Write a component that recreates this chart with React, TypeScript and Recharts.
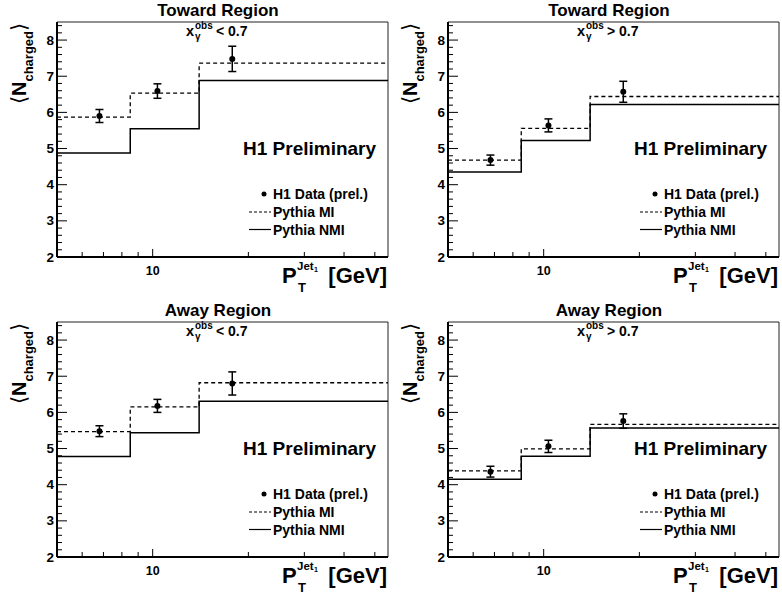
import {
  ComposedChart,
  Line,
  Scatter,
  ErrorBar,
  XAxis,
  YAxis,
  ReferenceArea,
  Legend,
} from 'recharts';

const FONT = '"Liberation Sans", Arial, Helvetica, sans-serif';

// P_T^Jet1 bins [GeV] and where the data points sit
const binEdges = [5, 8.5, 14, 55];
const pointX = [6.8, 10.35, 17.8];

const xMajorTicks = [10];
const xMinorTicks = [6, 7, 8, 9, 20, 30, 40, 50];
const yMajorTicks = [2, 3, 4, 5, 6, 7, 8];
const yMinorTicks = [
  2.2, 2.4, 2.6, 2.8, 3.2, 3.4, 3.6, 3.8, 4.2, 4.4, 4.6, 4.8, 5.2, 5.4, 5.6, 5.8,
  6.2, 6.4, 6.6, 6.8, 7.2, 7.4, 7.6, 7.8, 8.2, 8.4,
];

const legendLabels = ['H1 Data (prel.)', 'Pythia MI', 'Pythia NMI'];

// Toward region, x_gamma < 0.7
const towardLowData = [5.9, 6.59, 7.48];
const towardLowErr = [0.18, 0.2, 0.35];
const towardLowMI = [5.87, 6.53, 7.36];
const towardLowNMI = [4.88, 5.55, 6.88];

// Toward region, x_gamma > 0.7
const towardHighData = [4.68, 5.64, 6.57];
const towardHighErr = [0.14, 0.18, 0.29];
const towardHighMI = [4.68, 5.56, 6.44];
const towardHighNMI = [4.35, 5.22, 6.22];

// Away region, x_gamma < 0.7
const awayLowData = [5.48, 6.18, 6.8];
const awayLowErr = [0.15, 0.18, 0.32];
const awayLowMI = [5.47, 6.15, 6.82];
const awayLowNMI = [4.78, 5.44, 6.31];

// Away region, x_gamma > 0.7
const awayHighData = [4.36, 5.06, 5.76];
const awayHighErr = [0.15, 0.17, 0.2];
const awayHighMI = [4.38, 4.99, 5.67];
const awayHighNMI = [4.15, 4.79, 5.57];

// histogram as step points: one row per bin edge, last value repeated
function stepRows(vals: number[]) {
  return binEdges.map((x, i) => ({ x, y: vals[Math.min(i, vals.length - 1)] }));
}

function XTick(props: any) {
  const { x, y, payload } = props;
  const major = xMajorTicks.includes(payload.value);
  return (
    <g>
      <line x1={x} y1={y} x2={x} y2={y - (major ? 8 : 5)} stroke="#000" strokeWidth={1} />
      {major && (
        <text x={x} y={y + 18} textAnchor="middle" fontSize={12.5} fontWeight="bold" fontFamily={FONT} fill="#000">
          {payload.value}
        </text>
      )}
    </g>
  );
}

function YTick(props: any) {
  const { x, y, payload } = props;
  const major = yMajorTicks.includes(payload.value);
  return (
    <g>
      <line x1={x} y1={y} x2={x + (major ? 10 : 5)} y2={y} stroke="#000" strokeWidth={1} />
      {major && (
        <text x={x - 3} y={y + 4.5} textAnchor="end" fontSize={13.5} fontWeight="bold" fontFamily={FONT} fill="#000">
          {payload.value}
        </text>
      )}
    </g>
  );
}

function DataDot(props: any) {
  return <circle cx={props.cx} cy={props.cy} r={3} fill="#000" />;
}

function LegendBox() {
  const rows = [10, 28, 45.5];
  return (
    <svg width={150} height={56} style={{ display: 'block', overflow: 'visible' }}>
      <circle cx={19} cy={rows[0]} r={2.5} fill="#000" />
      <line x1={4} x2={26} y1={rows[1]} y2={rows[1]} stroke="#000" strokeWidth={1.2} strokeDasharray="3 2" />
      <line x1={4} x2={26} y1={rows[2]} y2={rows[2]} stroke="#000" strokeWidth={1.2} />
      {legendLabels.map((l, i) => (
        <text key={l} x={28} y={rows[i] + 5} fontSize={14} fontWeight="bold" fontFamily={FONT} fill="#000">
          {l}
        </text>
      ))}
    </svg>
  );
}

interface PanelProps {
  title: string;
  cut: string;
  data: number[];
  err: number[];
  mi: number[];
  nmi: number[];
  left: number;
  top: number;
}

function Panel({ title, cut, data, err, mi, nmi, left, top }: PanelProps) {
  const points = pointX.map((x, i) => ({ x, y: data[i], err: err[i] }));
  const xTicks = [...xMinorTicks, ...xMajorTicks].sort((a, b) => a - b);
  const yTicks = [...yMajorTicks, ...yMinorTicks].sort((a, b) => a - b);
  return (
    <div style={{ position: 'absolute', left, top, width: 391, height: 300 }}>
      <ComposedChart width={391} height={300} margin={{ top: 22, right: 3, bottom: 0, left: 0 }}>
        <XAxis
          dataKey="x"
          type="number"
          scale="log"
          domain={[5, 55]}
          allowDataOverflow
          ticks={xTicks}
          interval={0}
          tick={XTick}
          tickLine={false}
          tickSize={0}
          tickMargin={0}
          height={43}
          axisLine={{ stroke: '#000', strokeWidth: 2 }}
        />
        <YAxis
          dataKey="y"
          type="number"
          domain={[2, 8.5]}
          allowDataOverflow
          ticks={yTicks}
          interval={0}
          tick={YTick}
          tickLine={false}
          tickSize={0}
          tickMargin={0}
          width={57}
          axisLine={{ stroke: '#000', strokeWidth: 2 }}
        />
        <ReferenceArea x1={5} x2={55} y1={2} y2={8.5} fill="none" stroke="#222" strokeWidth={1} ifOverflow="visible" />
        <Line
          data={stepRows(nmi)}
          dataKey="y"
          type="stepAfter"
          stroke="#000"
          strokeWidth={1.5}
          dot={false}
          isAnimationActive={false}
        />
        <Line
          data={stepRows(mi)}
          dataKey="y"
          type="stepAfter"
          stroke="#000"
          strokeWidth={1.3}
          strokeDasharray="4 3"
          dot={false}
          isAnimationActive={false}
        />
        <Scatter data={points} dataKey="y" fill="#000" shape={DataDot} isAnimationActive={false}>
          <ErrorBar dataKey="err" direction="y" width={4} stroke="#000" strokeWidth={1.5} />
        </Scatter>
        <Legend
          layout="horizontal"
          verticalAlign="middle"
          align="center"
          wrapperStyle={{ left: 245, top: 184, width: 150, height: 56 }}
          content={() => <LegendBox />}
        />
        <text x={218} y={16} textAnchor="middle" fontSize={17} fontWeight="bold" fontFamily={FONT} fill="#000">
          {title}
        </text>
        <g fontFamily={FONT} fontWeight="bold" fill="#000">
          <text x={186} y={36} fontSize={14.5}>x</text>
          <text x={195} y={29} fontSize={10}>obs</text>
          <text x={195} y={40} fontSize={10}>γ</text>
          <text x={216} y={36} fontSize={14}>{cut}</text>
        </g>
        <text x={243} y={155} fontSize={19} fontWeight="bold" fontFamily={FONT} fill="#000">
          H1 Preliminary
        </text>
        <g fontFamily={FONT} fontWeight="bold" fill="#000">
          <text x={282} y={283} fontSize={22}>P</text>
          <text x={297} y={270} fontSize={11.5}>Jet</text>
          <text x={314} y={272} fontSize={7}>1</text>
          <text x={298} y={292} fontSize={13}>T</text>
          <text x={387} y={283} fontSize={22} textAnchor="end">[GeV]</text>
        </g>
        <text transform="translate(26, 23) rotate(-90)" textAnchor="end" fontFamily={FONT} fill="#000">
          <tspan fontSize={21} fontWeight={300}>⟨</tspan>
          <tspan fontSize={20} fontWeight="bold">N</tspan>
          <tspan fontSize={13} fontWeight="bold" dy={7}>charged</tspan>
          <tspan fontSize={21} fontWeight={300} dy={-7}>⟩</tspan>
        </text>
      </ComposedChart>
    </div>
  );
}

export default function App() {
  return (
    <div style={{ position: 'absolute', left: 0, top: 0, width: 782, height: 600, background: '#fff' }}>
      <Panel title="Toward Region" cut="< 0.7" data={towardLowData} err={towardLowErr} mi={towardLowMI} nmi={towardLowNMI} left={0} top={0} />
      <Panel title="Toward Region" cut="> 0.7" data={towardHighData} err={towardHighErr} mi={towardHighMI} nmi={towardHighNMI} left={391} top={0} />
      <Panel title="Away Region" cut="< 0.7" data={awayLowData} err={awayLowErr} mi={awayLowMI} nmi={awayLowNMI} left={0} top={300} />
      <Panel title="Away Region" cut="> 0.7" data={awayHighData} err={awayHighErr} mi={awayHighMI} nmi={awayHighNMI} left={391} top={300} />
    </div>
  );
}
